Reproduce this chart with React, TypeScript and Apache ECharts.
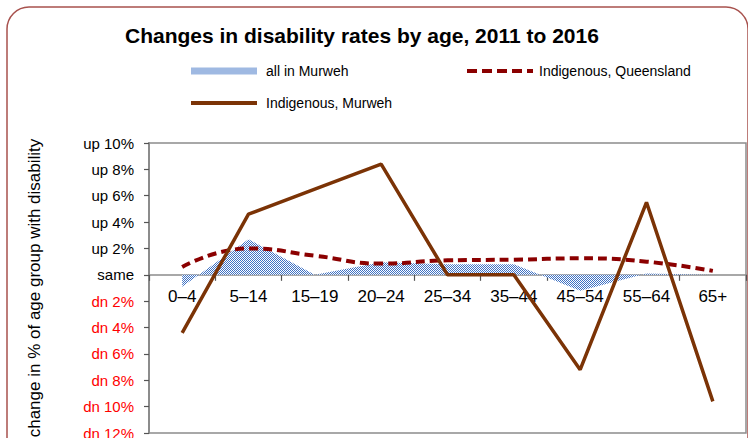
import React, { useEffect, useRef } from "react";
import * as echarts from "echarts";

const categories = ["0–4", "5–14", "15–19", "20–24", "25–34", "35–44", "45–54", "55–64", "65+"];
const allMurweh = [-0.9, 2.7, 0, 0.95, 0.8, 0.8, -1.2, 0.1, 0];
const indigenousQueensland = [0.6, 2.0, 1.45, 0.85, 1.1, 1.15, 1.25, 1.0, 0.3];
const indigenousMurweh = [-4.4, 4.6, 6.5, 8.4, 0, 0, -7.2, 5.5, -9.6];
const yMin = -12;
const yMax = 10;
const yStep = 2;

const FONT = "'Liberation Sans', Arial, sans-serif";
const GRID_TOP = 143;
const GRID_BOTTOM = 5;
const CHART_H = 438;
const QLD_COLOR = "#8b0000";
const MUR_COLOR = "#7b3306";
const DASH_ICON =
  "path://M0,0h10v4h-10z M15,0h10v4h-10z M30,0h10v4h-10z M45,0h10v4h-10z M60,0h6v4h-6z";

function makePattern() {
  const c = document.createElement("canvas");
  c.width = 2;
  c.height = 2;
  const ctx = c.getContext("2d")!;
  ctx.fillStyle = "#ffffff";
  ctx.fillRect(0, 0, 2, 2);
  ctx.fillStyle = "#3f72c4";
  ctx.fillRect(0, 0, 1, 1);
  ctx.fillRect(1, 1, 1, 1);
  return { image: c, repeat: "repeat", imageWidth: 2, imageHeight: 2 } as any;
}

export default function App() {
  const ref = useRef<HTMLDivElement>(null);
  useEffect(() => {
    if (!ref.current) return;
    const chart = echarts.init(ref.current, undefined, { renderer: "svg" });
    const pattern = makePattern();
    const plotH = CHART_H - GRID_TOP - GRID_BOTTOM;
    const zeroOffset = (plotH * (0 - yMin)) / (yMax - yMin);
    const legendText = { fontFamily: FONT, fontSize: 14, color: "#000", padding: [0, 0, 0, 4] };
    chart.setOption({
      animation: false,
      title: {
        text: "Changes in disability rates by age, 2011 to 2016",
        left: 120,
        top: 20,
        textStyle: { fontFamily: FONT, fontSize: 21, fontWeight: "bold", color: "#000" },
      },
      graphic: [
        {
          type: "rect",
          shape: { x: 7, y: 7, width: 741, height: 460, r: 22 },
          style: { fill: "none", stroke: "#a8524e", lineWidth: 1.5 },
          silent: true,
          z: -1,
        },
      ],
      legend: [
        {
          data: [{ name: "all in Murweh", icon: "rect", itemStyle: { color: pattern } }],
          left: 186,
          top: 59,
          itemWidth: 66,
          itemHeight: 7,
          textStyle: legendText,
        },
        {
          data: [
            {
              name: "Indigenous, Queensland",
              icon: DASH_ICON,
              itemStyle: { color: QLD_COLOR },
            },
          ],
          left: 462,
          top: 59,
          itemWidth: 66,
          itemHeight: 4,
          symbolKeepAspect: false,
          textStyle: { ...legendText, padding: [0, 0, 0, 1] },
        },
        {
          data: [{ name: "Indigenous, Murweh", icon: "rect", itemStyle: { color: MUR_COLOR } }],
          left: 186,
          top: 91,
          itemWidth: 66,
          itemHeight: 4,
          textStyle: legendText,
        },
      ],
      grid: {
        left: 149,
        right: 2,
        top: GRID_TOP,
        bottom: GRID_BOTTOM,
        show: true,
        borderColor: "#8c8c8c",
        borderWidth: 1.5,
        containLabel: false,
        outerBoundsMode: "none",
      },
      xAxis: {
        type: "category",
        data: categories,
        boundaryGap: true,
        position: "bottom",
        offset: -zeroOffset,
        axisLine: { onZero: false, lineStyle: { color: "#8c8c8c", width: 1.5 } },
        axisTick: { show: true, length: 6, inside: false, lineStyle: { color: "#555", width: 1.2 } },
        axisLabel: { fontFamily: FONT, fontSize: 17, color: "#000", margin: 13 },
        splitLine: { show: false },
      },
      yAxis: {
        type: "value",
        min: yMin,
        max: yMax,
        interval: yStep,
        name: "change in % of age group with disability",
        nameLocation: "middle",
        nameGap: 106,
        nameTextStyle: { fontFamily: FONT, fontSize: 17, color: "#000" },
        axisLine: { show: true, lineStyle: { color: "#8c8c8c", width: 2 } },
        axisTick: { show: true, length: 5, lineStyle: { color: "#555", width: 1.2 } },
        splitLine: { show: false },
        axisLabel: {
          fontFamily: FONT,
          fontSize: 15,
          margin: 15,
          color: (v: any) => (Number(v) < 0 ? "#ff0000" : "#000"),
          formatter: (v: number) =>
            v > 0 ? `up ${v}%` : v < 0 ? `dn ${Math.abs(v)}%` : "same",
        },
      },
      series: [
        {
          name: "all in Murweh",
          type: "line",
          data: allMurweh,
          symbol: "none",
          lineStyle: { width: 0, color: "#3f72c4" },
          itemStyle: { color: "#3f72c4" },
          areaStyle: { color: pattern, opacity: 1 },
          z: 1,
        },
        {
          name: "Indigenous, Queensland",
          type: "line",
          data: indigenousQueensland,
          symbol: "none",
          smooth: true,
          lineStyle: { width: 4, color: QLD_COLOR, type: [9, 5] },
          itemStyle: { color: QLD_COLOR },
          z: 2,
        },
        {
          name: "Indigenous, Murweh",
          type: "line",
          data: indigenousMurweh,
          symbol: "none",
          lineStyle: { width: 3.5, color: MUR_COLOR },
          itemStyle: { color: MUR_COLOR },
          z: 3,
        },
      ],
    });
    return () => chart.dispose();
  }, []);
  return (
    <div
      ref={ref}
      style={{ position: "absolute", left: 0, top: 0, width: 748, height: 438, background: "#fff" }}
    />
  );
}
